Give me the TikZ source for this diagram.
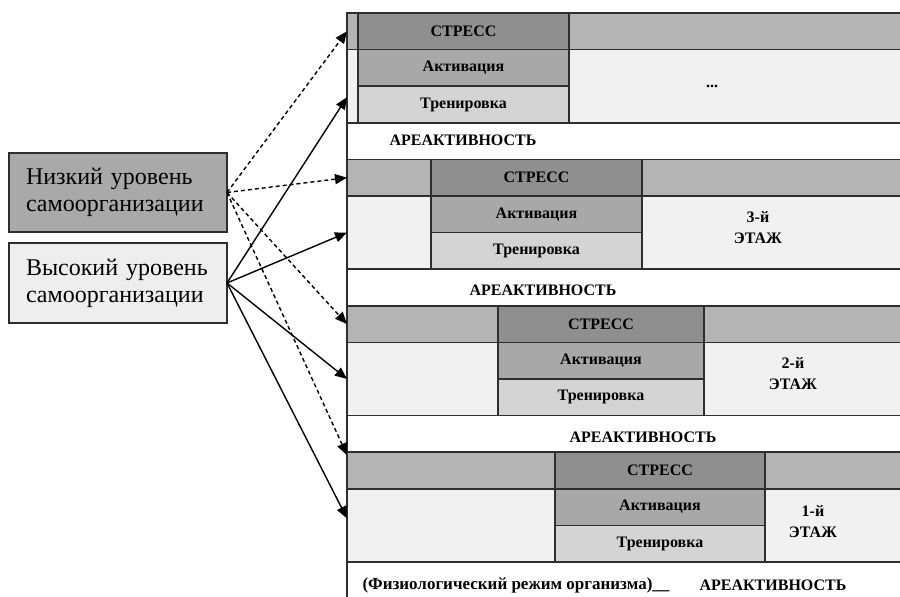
\documentclass[tikz,border=0pt]{standalone}
\usepackage{fontspec}
\setmainfont{Liberation Serif}
\usepackage{tikz}
\usetikzlibrary{arrows.meta, positioning}
\definecolor{framegray}{HTML}{2e2e2e}
\definecolor{stressgray}{HTML}{8f8f8f}
\definecolor{sidegray}{HTML}{b4b4b4}
\definecolor{actgray}{HTML}{a8a8a8}
\definecolor{traingray}{HTML}{d4d4d4}
\definecolor{palegray}{HTML}{f1f1f1}
\definecolor{lowgray}{HTML}{a9a9a9}
\definecolor{highgray}{HTML}{eeeeee}
\tikzstyle{cell} = [rectangle, draw=framegray, line width=0.75pt, outer sep=0pt, inner sep=0pt,
  minimum height=18.3pt, font=\fontsize{8}{9}\selectfont\bfseries, text=black]
\tikzstyle{stressbox} = [cell, fill=stressgray]
\tikzstyle{actbox} = [cell, fill=actgray]
\tikzstyle{trainbox} = [cell, fill=traingray]
\tikzstyle{sidebox} = [cell, fill=sidegray]
\tikzstyle{floorbox} = [cell, fill=palegray, minimum height=36.6pt]
\tikzstyle{restbox} = [cell, fill=white, minimum width=281.5pt, anchor=north west]
\tikzstyle{tagtext} = [inner sep=0pt, align=center, font=\fontsize{8}{10.5}\selectfont\bfseries]
\tikzstyle{levelbox} = [rectangle, draw=framegray, line width=0.75pt, outer sep=0pt, inner xsep=8.5pt,
  text width=92pt, align=left, minimum width=109pt, minimum height=39.5pt,
  font=\fontsize{12}{13.5}\selectfont, anchor=north west]
\tikzstyle{arrow} = [line width=0.7pt, -{Triangle[length=6pt,width=5pt]}]
\tikzstyle{dasharrow} = [arrow, dash pattern=on 2pt off 1.5pt]

\begin{document}
\begin{tikzpicture}[x=0.5pt, y=-0.5pt]
  \path[use as bounding box, fill=white] (0,0) rectangle (900,597);

  % top floor (unnumbered)
  \node (t0stress) [stressbox, minimum width=105.5pt, anchor=north west] at (358,13) {СТРЕСС};
  \node (t0sideL)  [sidebox, minimum width=5.5pt, left=0pt of t0stress] {};
  \node (t0sideR)  [sidebox, minimum width=170pt, right=0pt of t0stress] {};
  \node (t0act)    [actbox, minimum width=105.5pt, below=0pt of t0stress] {Активация};
  \node (t0train)  [trainbox, minimum width=105.5pt, below=0pt of t0act] {Тренировка};
  \node (t0floorL) [floorbox, minimum width=5.5pt, below=0pt of t0sideL] {};
  \node (t0floorR) [floorbox, minimum width=170pt, below=0pt of t0sideR] {};
  \node (t0rest)   [restbox] at (347,122.8) {};
  \node (t0dots)   [tagtext] at (712,86) {...};
  \node (t0arest)  [tagtext] at (463,140) {АРЕАКТИВНОСТЬ};

  % 3rd floor
  \node (s3stress) [stressbox, minimum width=105.5pt, anchor=north west] at (431,159.4) {СТРЕСС};
  \node (s3sideL)  [sidebox, minimum width=42pt, left=0pt of s3stress] {};
  \node (s3sideR)  [sidebox, minimum width=134pt, right=0pt of s3stress] {};
  \node (s3act)    [actbox, minimum width=105.5pt, below=0pt of s3stress] {Активация};
  \node (s3train)  [trainbox, minimum width=105.5pt, below=0pt of s3act] {Тренировка};
  \node (s3floorL) [floorbox, minimum width=42pt, below=0pt of s3sideL] {};
  \node (s3floorR) [floorbox, minimum width=134pt, below=0pt of s3sideR] {};
  \node (s3rest)   [restbox] at (347,269.2) {};
  \node (s3name)   [tagtext] at (758,228) {3-й\\ЭТАЖ};
  \node (s3arest)  [tagtext] at (543,290) {АРЕАКТИВНОСТЬ};

  % 2nd floor
  \node (s2stress) [stressbox, minimum width=103pt, anchor=north west] at (498,305.8) {СТРЕСС};
  \node (s2sideL)  [sidebox, minimum width=75.5pt, left=0pt of s2stress] {};
  \node (s2sideR)  [sidebox, minimum width=103pt, right=0pt of s2stress] {};
  \node (s2act)    [actbox, minimum width=103pt, below=0pt of s2stress] {Активация};
  \node (s2train)  [trainbox, minimum width=103pt, below=0pt of s2act] {Тренировка};
  \node (s2floorL) [floorbox, minimum width=75.5pt, below=0pt of s2sideL] {};
  \node (s2floorR) [floorbox, minimum width=103pt, below=0pt of s2sideR] {};
  \node (s2rest)   [restbox] at (347,415.6) {};
  \node (s2name)   [tagtext] at (793,374) {2-й\\ЭТАЖ};
  \node (s2arest)  [tagtext] at (643,437) {АРЕАКТИВНОСТЬ};

  % 1st floor
  \node (s1stress) [stressbox, minimum width=105pt, anchor=north west] at (555,452.2) {СТРЕСС};
  \node (s1sideL)  [sidebox, minimum width=104pt, left=0pt of s1stress] {};
  \node (s1sideR)  [sidebox, minimum width=72.5pt, right=0pt of s1stress] {};
  \node (s1act)    [actbox, minimum width=105pt, below=0pt of s1stress] {Активация};
  \node (s1train)  [trainbox, minimum width=105pt, below=0pt of s1act] {Тренировка};
  \node (s1floorL) [floorbox, minimum width=104pt, below=0pt of s1sideL] {};
  \node (s1floorR) [floorbox, minimum width=72.5pt, below=0pt of s1sideR] {};
  \node (s1rest)   [restbox] at (347,562) {};
  \node (s1name)   [tagtext] at (813,522) {1-й\\ЭТАЖ};
  \node (s1mode)   [tagtext, font=\fontsize{8.5}{10.5}\selectfont\bfseries] at (516,585)
    {(Физиологический режим организма)\_\_};
  \node (s1arest)  [tagtext] at (773,585) {АРЕАКТИВНОСТЬ};

  % levels of self-organisation
  \node (low)  [levelbox, fill=lowgray] at (9,153) {Низкий уровень самоорганизации};
  \node (high) [levelbox, fill=highgray, minimum height=40pt, below=5.5pt of low.south west, anchor=north west]
    {Высокий уровень самоорганизации};

  \draw[dasharrow] (low.east) -- (t0sideL.west);
  \draw[dasharrow] (low.east) -- (s3sideL.west);
  \draw[dasharrow] (low.east) -- (s2sideL.west);
  \draw[dasharrow] (low.east) -- ([yshift=-1.5pt]s1sideL.north west);
  \draw[arrow] (high.east) -- ([yshift=-5.5pt]t0floorL.west);
  \draw[arrow] (high.east) -- (s3floorL.west);
  \draw[arrow] (high.east) -- (s2floorL.west);
  \draw[arrow] (high.east) -- ([yshift=3.5pt]s1floorL.west);
\end{tikzpicture}
\end{document}
